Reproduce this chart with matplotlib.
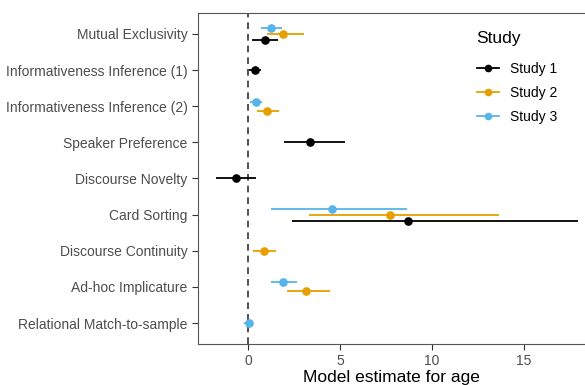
import numpy as np
import matplotlib.pyplot as plt

plt.rcParams['font.family'] = ['Liberation Sans', 'DejaVu Sans']

categories = ['Mutual Exclusivity', 'Informativeness Inference (1)',
              'Informativeness Inference (2)', 'Speaker Preference',
              'Discourse Novelty', 'Card Sorting', 'Discourse Continuity',
              'Ad-hoc Implicature', 'Relational Match-to-sample']
studies = ['Study 1', 'Study 2', 'Study 3']
colors = ['#000000', '#E69F00', '#56B4E9']

nan = np.nan
# estimate, lower, upper per study (nan = not run in that study)
est1 = [0.90, 0.34, nan, 3.37, -0.66, 8.69, nan, nan, nan]
lo1 = [0.21, 0.03, nan, 1.93, -1.75, 2.37, nan, nan, nan]
hi1 = [1.61, 0.70, nan, 5.26, 0.41, 17.97, nan, nan, nan]

est2 = [1.90, nan, 1.02, nan, nan, 7.71, 0.86, 3.15, nan]
lo2 = [0.99, nan, 0.48, nan, nan, 3.30, 0.26, 2.11, nan]
hi2 = [3.02, nan, 1.64, nan, nan, 13.67, 1.50, 4.44, nan]

est3 = [1.23, nan, 0.39, nan, nan, 4.55, nan, 1.86, 0.01]
lo3 = [0.68, nan, 0.08, nan, nan, 1.24, nan, 1.21, -0.23]
hi3 = [1.83, nan, 0.75, nan, nan, 8.62, nan, 2.66, 0.26]

est = [est1, est2, est3]
lo = [lo1, lo2, lo3]
hi = [hi1, hi2, hi3]

fig = plt.figure(figsize=(5.85, 3.85), dpi=100)
ax = fig.add_axes([198 / 585, 1 - 344 / 385, 1 - 198 / 585, (344 - 13) / 385])

n = len(categories)
width = 0.5
ax.axvline(0, color='#333333', lw=1.2, ls=(0, (4, 3)), zorder=1)

for i in range(n):
    base = n - 1 - i
    present = [s for s in range(3) if not np.isnan(est[s][i])]
    m = len(present)
    for k, s in enumerate(present):
        y = base + width / m * (k - (m - 1) / 2)
        ax.plot([lo[s][i], hi[s][i]], [y, y], color=colors[s], lw=1.3,
                solid_capstyle='butt', zorder=2)
        ax.plot(est[s][i], y, 'o', color=colors[s], ms=5.2, zorder=3)

for s in range(3):
    ax.plot([], [], '-o', color=colors[s], lw=1.3, ms=4.5, label=studies[s])

ax.set_xlim(-2.75, 18.34)
ax.set_ylim(-0.58, n - 1 + 0.58)
ax.set_yticks(range(n))
ax.set_yticklabels(categories[::-1])
ax.set_xticks([0, 5, 10, 15])
ax.tick_params(axis='both', colors='#333333', labelcolor='#4d4d4d',
               labelsize=10, length=4, width=0.8)
ax.spines['right'].set_visible(False)
for sp in ['left', 'bottom', 'top']:
    ax.spines[sp].set_color('#555555')
    ax.spines[sp].set_linewidth(0.8)
ax.set_xlabel('Model estimate for age', fontsize=12.5, labelpad=1)

ax.legend(loc='upper left', bbox_to_anchor=(464 / 585, 1 - 49 / 385),
          bbox_transform=fig.transFigure, frameon=False, fontsize=10,
          handlelength=1.6, labelspacing=0.75, handletextpad=0.8)
fig.text(476 / 585, 1 - 38 / 385, 'Study', fontsize=12.5, va='center', ha='left')

fig.savefig('out.png', dpi=100)
